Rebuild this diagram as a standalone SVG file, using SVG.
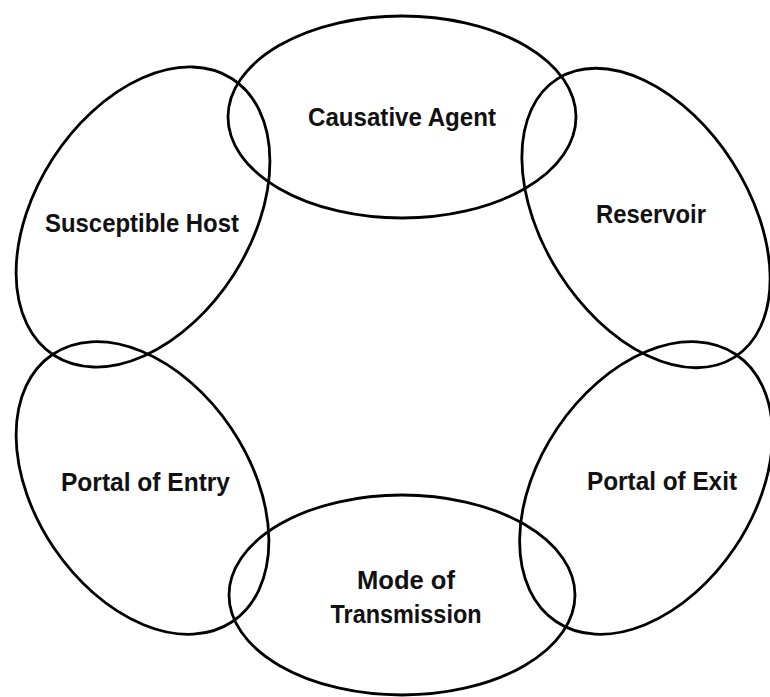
<svg xmlns="http://www.w3.org/2000/svg" width="770" height="697" viewBox="0 0 770 697">
<style>
.ring{fill:none;stroke:#000;stroke-width:2.8}
.lbl{font-family:"Liberation Sans",Arial,sans-serif;font-weight:bold;font-size:25px;fill:#111;text-anchor:middle}
</style>
<rect width="770" height="697" fill="#fff"/>
<g id="causative-agent">
<ellipse class="ring" cx="402" cy="117" rx="174" ry="101"/>
<text class="lbl" x="402" y="126" textLength="188" lengthAdjust="spacingAndGlyphs">Causative Agent</text>
</g>
<g id="reservoir">
<ellipse class="ring" cx="646" cy="218" rx="165" ry="103" transform="rotate(57.5 646 218)"/>
<text class="lbl" x="651" y="223" textLength="110" lengthAdjust="spacingAndGlyphs">Reservoir</text>
</g>
<g id="portal-of-exit">
<ellipse class="ring" cx="646" cy="488" rx="161" ry="107" transform="rotate(-56 646 488)"/>
<text class="lbl" x="662" y="490" textLength="150" lengthAdjust="spacingAndGlyphs">Portal of Exit</text>
</g>
<g id="mode-of-transmission">
<ellipse class="ring" cx="402" cy="595" rx="173" ry="100"/>
<text class="lbl" x="406" y="589" textLength="98" lengthAdjust="spacingAndGlyphs">Mode of</text>
<text class="lbl" x="406" y="623" textLength="151" lengthAdjust="spacingAndGlyphs">Transmission</text>
</g>
<g id="portal-of-entry">
<ellipse class="ring" cx="142.5" cy="488" rx="161" ry="107" transform="rotate(56 142.5 488)"/>
<text class="lbl" x="145.5" y="491" textLength="169" lengthAdjust="spacingAndGlyphs">Portal of Entry</text>
</g>
<g id="susceptible-host">
<ellipse class="ring" cx="143" cy="217" rx="164.5" ry="107.5" transform="rotate(-57.2 143 217)"/>
<text class="lbl" x="142" y="232" textLength="194" lengthAdjust="spacingAndGlyphs">Susceptible Host</text>
</g>
<g id="connectors"></g>
</svg>
